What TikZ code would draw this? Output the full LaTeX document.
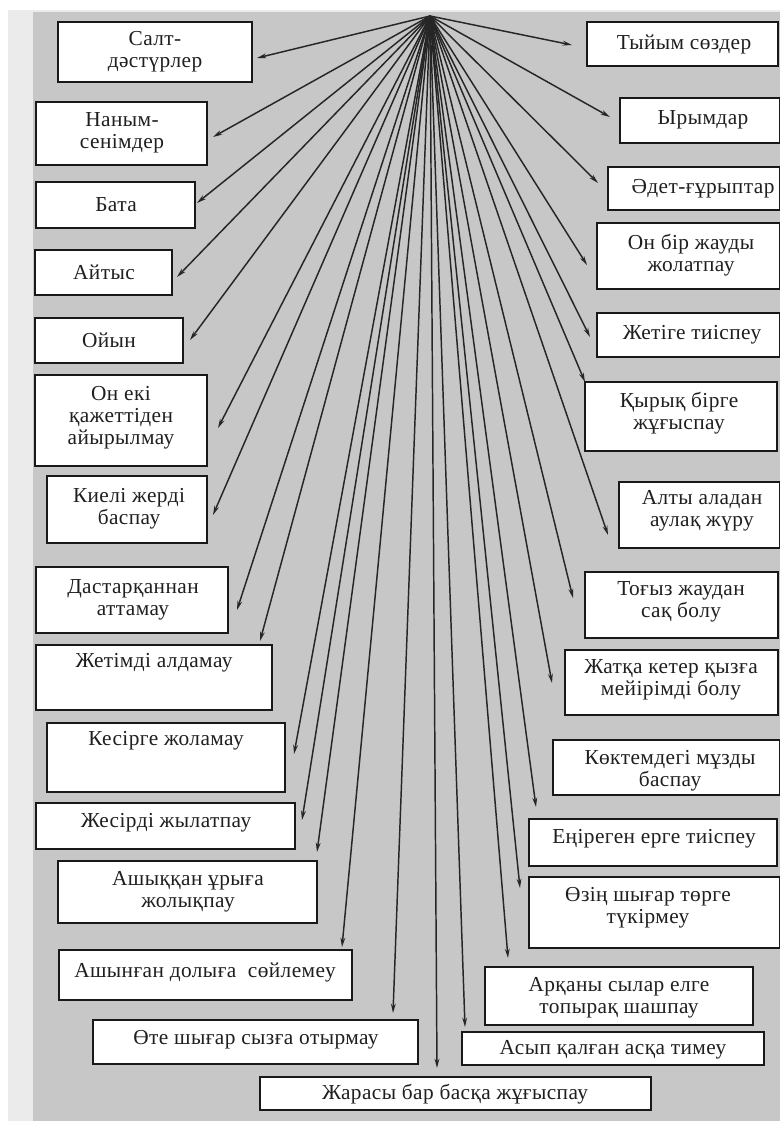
\documentclass[tikz,border=0pt]{standalone}
\usepackage{fontspec}
\setmainfont{Liberation Serif}
\usetikzlibrary{arrows.meta}
\newcommand\bx[8]{%
  \node[box,minimum width={(#4-#2)*0.75pt},minimum height={(#5-#3)*0.75pt}] (#1) at ({(#2+#4)/2},{(#3+#5)/2}) {};
  \node[lbl] (#1-t) at (#6,#7) {#8};}
\begin{document}
\begin{tikzpicture}[x=0.75pt,y=-0.75pt,
  box/.style={draw=black!90, line width=1.1pt, fill=white, inner sep=0pt},
  lbl/.style={align=center, font=\fontsize{16}{16.5}\selectfont\addfontfeatures{LetterSpace=2}, inner sep=0pt, text=black!88},
  arr/.style={line width=1.1pt, draw=black!85, -{Stealth[length=7pt,width=3.6pt]}}]
\useasboundingbox (0,0) rectangle (780,1121);
\fill[white] (0,0) rectangle (780,1121);
\fill[black!8] (8,10) rectangle (780,1121);
\fill[black!22] (33,12) rectangle (780,1121);
% left boxes
\bx{salt}{58}{22}{252}{82}{155}{52}{Салт-\\дәстүрлер}
\bx{nanym}{36}{102}{207}{165}{122}{133}{Наным-\\сенімдер}
\bx{bata}{36}{182}{195}{228}{116}{205}{Бата}
\bx{aitys}{35}{250}{172}{295}{104}{272}{Айтыс}
\bx{oiyn}{35}{318}{183}{363}{109}{340}{Ойын}
\bx{onek}{35}{375}{207}{466}{121}{418}{Он екі\\қажеттіден\\айырылмау}
\bx{kieli}{47}{476}{207}{543}{129}{509}{Киелі жерді\\баспау}
\bx{dastar}{36}{567}{228}{633}{133}{600}{Дастарқаннан\\аттамау}
\bx{zhetim}{36}{645}{272}{710}{154}{663}{Жетімді алдамау}
\bx{kesir}{47}{723}{285}{792}{166}{741}{Кесірге жоламау}
\bx{zhesir}{36}{803}{295}{849}{166}{823}{Жесірді жылатпау}
\bx{ashyk}{58}{861}{317}{923}{188}{892}{Ашыққан ұрыға\\жолықпау}
\bx{ashyn}{59}{950}{352}{1000}{205}{972}{Ашынған долыға\ \ сөйлемеу}
\bx{ote}{93}{1020}{418}{1064}{256}{1040}{Өте шығар сызға отырмау}
\bx{zharasy}{260}{1077}{651}{1110}{455}{1094}{Жарасы бар басқа жұғыспау}
% right boxes
\bx{tyiym}{587}{22}{778}{66}{684}{44}{Тыйым сөздер}
\bx{yrym}{620}{98}{780}{143}{703}{120}{Ырымдар}
\bx{adet}{608}{167}{780}{210}{703}{189}{Әдет-ғұрыптар}
\bx{onbir}{597}{223}{780}{289}{691}{255}{Он бір жауды\\жолатпау}
\bx{zhetige}{597}{313}{780}{357}{692}{335}{Жетіге тиіспеу}
\bx{kyryk}{585}{382}{777}{451}{679}{413}{Қырық бірге\\жұғыспау}
\bx{alty}{619}{482}{780}{548}{702}{511}{Алты аладан\\аулақ жүру}
\bx{togyz}{585}{572}{778}{638}{681}{602}{Тоғыз жаудан\\сақ болу}
\bx{zhatka}{565}{650}{778}{715}{671}{680}{Жатқа кетер қызға\\мейірімді болу}
\bx{koktem}{553}{740}{780}{795}{670}{771}{Көктемдегі мұзды\\баспау}
\bx{enir}{529}{819}{777}{866}{654}{839}{Еңіреген ерге тиіспеу}
\bx{ozin}{529}{877}{780}{948}{648}{908}{Өзің шығар төрге\\түкірмеу}
\bx{arkany}{485}{967}{753}{1025}{619}{998}{Арқаны сылар елге\\топырақ шашпау}
\bx{asyp}{462}{1032}{764}{1065}{613}{1050}{Асып қалған асқа тимеу}
% hub and arrow tips
\coordinate (hub) at (430,16);
\coordinate (t-salt) at (257,58);
\coordinate (t-nanym) at (213,137);
\coordinate (t-bata) at (197,203);
\coordinate (t-aitys) at (177,277);
\coordinate (t-oiyn) at (190,340);
\coordinate (t-onek) at (218,428);
\coordinate (t-kieli) at (213,515);
\coordinate (t-dastar) at (237,610);
\coordinate (t-zhetim) at (260,641);
\coordinate (t-kesir) at (294,754);
\coordinate (t-zhesir) at (302,820);
\coordinate (t-ashyk) at (317,852);
\coordinate (t-ashyn) at (342,947);
\coordinate (t-ote) at (393,1013);
\coordinate (t-zharasy) at (437,1068);
\coordinate (t-tyiym) at (572,45);
\coordinate (t-yrym) at (610,117);
\coordinate (t-adet) at (598,183);
\coordinate (t-onbir) at (587,265);
\coordinate (t-zhetige) at (590,337);
\coordinate (t-kyryk) at (585,382);
\coordinate (t-alty) at (608,535);
\coordinate (t-togyz) at (573,598);
\coordinate (t-zhatka) at (552,683);
\coordinate (t-enir) at (536,807);
\coordinate (t-ozin) at (520,888);
\coordinate (t-arkany) at (508,958);
\coordinate (t-asyp) at (465,1027);
\foreach \t in {salt,nanym,bata,aitys,oiyn,onek,kieli,dastar,zhetim,kesir,zhesir,ashyk,ashyn,ote,zharasy,tyiym,yrym,adet,onbir,zhetige,kyryk,alty,togyz,zhatka,enir,ozin,arkany,asyp}
  \draw[arr] (hub) -- (t-\t);
\end{tikzpicture}
\end{document}
